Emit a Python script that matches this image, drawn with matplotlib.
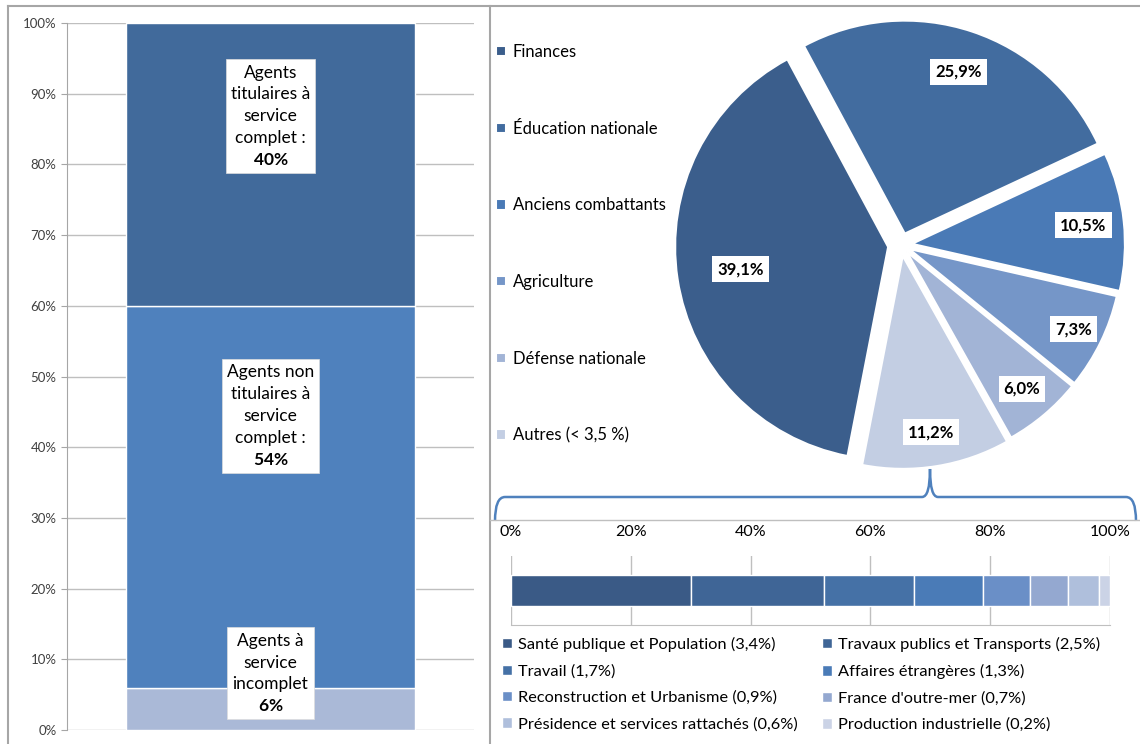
import numpy as np
import matplotlib
matplotlib.use("Agg")
import matplotlib.pyplot as plt
from matplotlib.path import Path
from matplotlib.patches import PathPatch
from matplotlib.ticker import FuncFormatter

plt.rcParams['font.family'] = ['Lato', 'DejaVu Sans']
plt.rcParams['mathtext.fontset'] = 'custom'
plt.rcParams['mathtext.rm'] = 'Lato'
plt.rcParams['mathtext.bf'] = 'Lato:bold'

# --- données ---
# barre empilée (statut des agents)
statuts = ["Agents à\nservice\nincomplet",
           "Agents non\ntitulaires à\nservice\ncomplet :",
           "Agents\ntitulaires à\nservice\ncomplet :"]
statuts_val = [6, 54, 40]
statuts_col = ["#AAB9D7", "#4F81BD", "#416A9B"]
statuts_label_y = [8.0, 44.4, 86.8]

# camembert (ministères)
ministeres = ["Finances", "Éducation nationale", "Anciens combattants",
              "Agriculture", "Défense nationale", "Autres (< 3,5 %)"]
ministeres_val = [39.1, 25.9, 10.5, 7.3, 6.0, 11.2]
ministeres_col = ["#3B5E8C", "#426C9F", "#4A7AB6", "#7596C8", "#A2B4D6", "#C3CEE3"]

# détail des "Autres"
autres = ["Santé publique et Population", "Travaux publics et Transports",
          "Travail", "Affaires étrangères", "Reconstruction et Urbanisme",
          "France d'outre-mer", "Présidence et services rattachés",
          "Production industrielle"]
autres_val = [3.4, 2.5, 1.7, 1.3, 0.9, 0.7, 0.6, 0.2]
autres_col = ["#3A5A86", "#3F6596", "#4571A6", "#4A7BB7",
              "#6A8FC7", "#94A8D0", "#AFBFDC", "#CBD3E6"]

W, H = 1140, 744
def fx(x):
    return x / W
def fy(y):
    return 1 - y / H

fig = plt.figure(figsize=(W / 100, H / 100), dpi=100)
fig.patch.set_facecolor("white")

# --- barre gauche ---
ax1 = fig.add_axes([fx(67), fy(730), (474 - 67) / W, (730 - 23) / H])
bas = 0
for v, c, lab, ly in zip(statuts_val, statuts_col, statuts, statuts_label_y):
    ax1.bar(0, v, bottom=bas, width=0.7125, color=c, edgecolor="white",
            linewidth=1, zorder=2)
    ax1.text(0, ly, lab + "\n$\\mathbf{%d\\%%}$" % v, ha="center", va="center",
             fontsize=12.5, linespacing=1.45, color="black", zorder=3,
             bbox=dict(boxstyle="square,pad=0.3", fc="white", ec="#DDDDDD", lw=0.5))
    bas += v
ax1.set_xlim(-0.5, 0.5)
ax1.set_ylim(0, 100)
ax1.set_yticks(np.arange(0, 101, 10))
ax1.yaxis.set_major_formatter(FuncFormatter(lambda v, p: "%d%%" % v))
ax1.set_xticks([])
ax1.grid(axis="y", color="#BFBFBF", linewidth=1, zorder=0)
for s in ["top", "right", "bottom"]:
    ax1.spines[s].set_visible(False)
ax1.spines["left"].set_color("#A6A6A6")
ax1.tick_params(axis="y", colors="#A6A6A6", labelcolor="#404040",
                labelsize=9.5, length=4)

# --- camembert ---
ax2 = fig.add_axes([fx(490), fy(520), 650 / W, 514 / H])
cx, cy, r = 901, H - 245, 213
explode = [13, 12, 11, 9, 9, 11]
wedges, _, autotexts = ax2.pie(
    ministeres_val, colors=ministeres_col, startangle=259, counterclock=False,
    center=(cx, cy), radius=r, explode=explode,
    autopct=lambda p: ("%.1f%%" % p).replace(".", ","),
    wedgeprops=dict(edgecolor="white", linewidth=1.5))
dist = [0.70, 0.80, 0.81, 0.86, 0.84, 0.84]
for w, t, d in zip(wedges, autotexts, dist):
    th = np.radians((w.theta1 + w.theta2) / 2)
    t.set_position((w.center[0] + d * r * np.cos(th), w.center[1] + d * r * np.sin(th)))
    t.set_fontsize(12)
    t.set_fontweight("bold")
    t.set_bbox(dict(boxstyle="square,pad=0.3", fc="white", ec="none"))
ax2.set_xlim(490, 1140)
ax2.set_ylim(H - 520, H - 6)
ax2.set_aspect("auto")
ax2.axis("off")
ax2.legend(wedges, ministeres, loc="upper left", bbox_to_anchor=(fx(496), fy(44)),
           bbox_transform=fig.transFigure, frameon=False, fontsize=12,
           labelspacing=3.64, handlelength=0.6, handleheight=0.6,
           handletextpad=0.4, borderpad=0, borderaxespad=0)

# --- barre horizontale "Autres" ---
ax3 = fig.add_axes([fx(511), fy(625), 599 / W, 69 / H])
parts = np.array(autres_val) / sum(autres_val)
gauche = 0
bars = []
for v, c in zip(parts, autres_col):
    b = ax3.barh(0.5, v, left=gauche, height=0.45, color=c, edgecolor="white",
                 linewidth=1, zorder=2)
    bars.append(b)
    gauche += v
ax3.set_xlim(0, 1)
ax3.set_ylim(0, 1)
ax3.set_yticks([])
ax3.set_xticks(np.arange(0, 1.01, 0.2))
ax3.xaxis.set_major_formatter(FuncFormatter(lambda v, p: "%d%%" % round(v * 100)))
ax3.tick_params(axis="x", top=True, labeltop=True, bottom=False, labelbottom=False,
                length=0, colors="#BFBFBF", labelcolor="black", labelsize=11.5, pad=12)
ax3.grid(axis="x", color="#BFBFBF", linewidth=1, zorder=0)
for s in ["top", "right", "left"]:
    ax3.spines[s].set_visible(False)
ax3.spines["bottom"].set_color("#BFBFBF")

ordre = [0, 2, 4, 6, 1, 3, 5, 7]
noms = ["%s (%s%%)" % (n, ("%.1f" % v).replace(".", ",")) for n, v in zip(autres, autres_val)]
fig.legend([bars[i] for i in ordre], [noms[i] for i in ordre], ncol=2,
           loc="upper left", bbox_to_anchor=(fx(502), fy(637)), frameon=False,
           fontsize=11.8, labelspacing=0.74, handlelength=0.6, handleheight=0.6,
           handletextpad=0.4, columnspacing=1.45, borderpad=0, borderaxespad=0)

# --- cadres et accolade ---
ov = fig.add_axes([0, 0, 1, 1], zorder=10)
ov.set_xlim(0, W)
ov.set_ylim(H, 0)
ov.axis("off")
ov.patch.set_alpha(0)
gris = "#A6A6A6"
ov.plot([8, W], [6, 6], color=gris, lw=1.5)
ov.plot([8, 8], [6, H], color=gris, lw=1.5)
ov.plot([490, 490], [6, H], color=gris, lw=1.5)
ov.plot([490, W], [520, 520], color="#BFBFBF", lw=1)
verts = [(495, 521), (495, 497), (505, 497),
         (922, 497), (930, 497), (930, 469), (930, 497), (938, 497),
         (1126, 497), (1136, 497), (1136, 521)]
codes = [Path.MOVETO, Path.CURVE3, Path.CURVE3,
         Path.LINETO, Path.CURVE3, Path.CURVE3, Path.CURVE3, Path.CURVE3,
         Path.LINETO, Path.CURVE3, Path.CURVE3]
ov.add_patch(PathPatch(Path(verts, codes), fc="none", ec="#4F81BD", lw=1.8))

fig.savefig("out.png", dpi=100)
